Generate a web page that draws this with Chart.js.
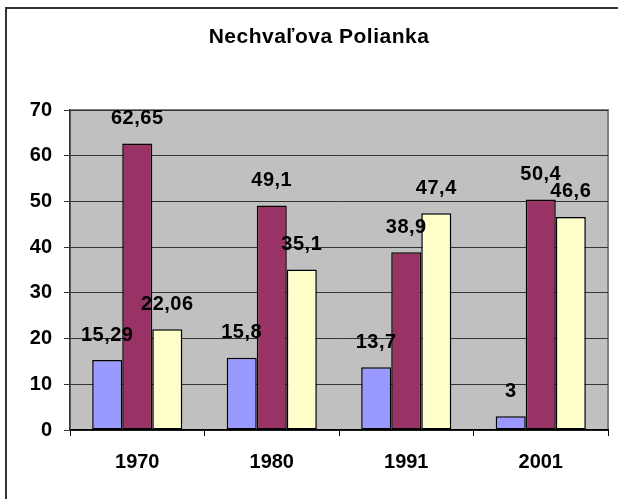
<!DOCTYPE html>
<html>
<head>
<meta charset="utf-8">
<script src="https://cdn.jsdelivr.net/npm/chart.js@4"></script>
<style>
  html, body { margin: 0; padding: 0; background: #fff; }
  #wrap { position: relative; width: 618px; height: 499px; overflow: hidden; }
  #frame {
    position: absolute; left: 5px; top: 7px; width: 640px; height: 520px;
    border-left: 2px solid #333; border-top: 2px solid #333;
  }
  canvas { position: absolute; left: 0; top: 0; }
</style>
</head>
<body>
<div id="wrap">
  <div id="frame"></div>
  <canvas id="chart" width="618" height="499"></canvas>
</div>
<script>
// ═══════════════════════════════════════════
// Nechvaľova Polianka — stĺpcový graf
// ═══════════════════════════════════════════

const TITLE = 'Nechvaľova Polianka';
const years = ['1970', '1980', '1991', '2001'];
const seriesA = [15.29, 15.8, 13.7, 3];
const seriesB = [62.65, 49.1, 38.9, 50.4];
const seriesC = [22.06, 35.1, 47.4, 46.6];
const yTicks = [0, 10, 20, 30, 40, 50, 60, 70];

const FONT = 'Liberation Sans, Arial, sans-serif';

// sivé pozadie plochy grafu + rámik
const plotBg = {
  id: 'plotBg',
  beforeDraw(chart) {
    const { ctx, chartArea: a } = chart;
    ctx.save();
    ctx.fillStyle = '#c0c0c0';
    ctx.fillRect(a.left, a.top, a.right - a.left, a.bottom - a.top);
    ctx.strokeStyle = '#808080';
    ctx.lineWidth = 2;
    ctx.strokeRect(a.left, a.top, a.right - a.left, a.bottom - a.top);
    ctx.restore();
  }
};

// nadpis (trochu mimo stredu, ako v origináli)
const titlePlugin = {
  id: 'titlePlugin',
  afterDraw(chart) {
    const ctx = chart.ctx;
    ctx.save();
    ctx.font = 'bold 21px ' + FONT;
    ctx.letterSpacing = '0.5px';
    ctx.fillStyle = '#000';
    ctx.textAlign = 'center';
    ctx.textBaseline = 'alphabetic';
    ctx.fillText(TITLE, 319, 43);
    ctx.restore();
  }
};

// hodnoty nad stĺpcami
const valueLabels = {
  id: 'valueLabels',
  afterDatasetsDraw(chart) {
    const ctx = chart.ctx;
    ctx.save();
    ctx.font = 'bold 20px ' + FONT;
    ctx.letterSpacing = '0.5px';
    ctx.fillStyle = '#000';
    ctx.textAlign = 'center';
    ctx.textBaseline = 'middle';
    chart.data.datasets.forEach((ds, i) => {
      chart.getDatasetMeta(i).data.forEach((bar, j) => {
        const txt = String(ds.data[j]).replace('.', ',');
        ctx.fillText(txt, bar.x, bar.y - 25);
      });
    });
    ctx.restore();
  }
};

const ctx = document.getElementById('chart').getContext('2d');
new Chart(ctx, {
  type: 'bar',
  data: {
    labels: years,
    datasets: [
      { data: seriesA, backgroundColor: '#9999ff' },
      { data: seriesB, backgroundColor: '#993366' },
      { data: seriesC, backgroundColor: '#ffffcc' }
    ].map(d => ({
      ...d,
      borderColor: '#000',
      borderWidth: 1.5,
      borderSkipped: false,
      categoryPercentage: 0.67,
      barPercentage: 1
    }))
  },
  options: {
    responsive: false,
    animation: false,
    layout: { padding: { left: 10, top: 110, right: 10, bottom: 0 } },
    plugins: {
      legend: { display: false },
      title: { display: false },
      tooltip: { enabled: false }
    },
    scales: {
      x: {
        grid: {
          offset: true,
          drawOnChartArea: false,
          drawTicks: true,
          tickLength: 6,
          color: '#000'
        },
        border: { color: '#000', width: 1.5 },
        ticks: {
          font: { family: FONT, size: 20, weight: 'bold' },
          color: '#000',
          padding: 14
        },
        afterFit: s => { s.height = 69; }
      },
      y: {
        min: 0,
        max: 70,
        afterBuildTicks: s => { s.ticks = yTicks.map(v => ({ value: v })); },
        grid: { color: '#333', lineWidth: 1, tickLength: 6 },
        border: { color: '#333', width: 1.5 },
        ticks: {
          font: { family: FONT, size: 20, weight: 'bold' },
          color: '#000',
          padding: 12
        },
        afterFit: s => { s.width = 60; }
      }
    }
  },
  plugins: [plotBg, titlePlugin, valueLabels]
});
</script>
</body>
</html>
